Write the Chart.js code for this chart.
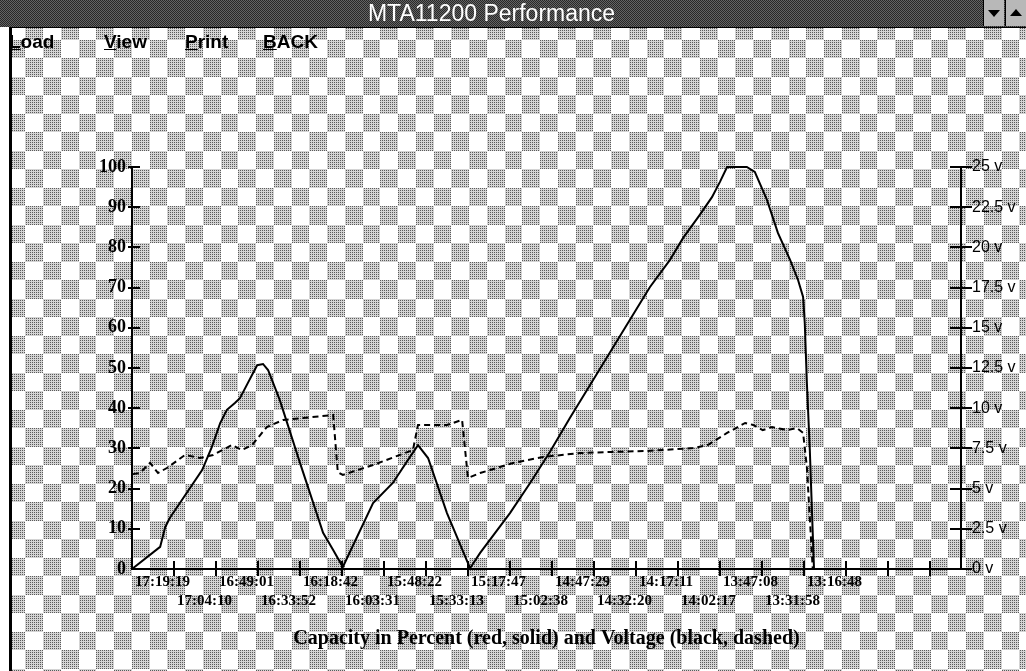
<!DOCTYPE html>
<html><head><meta charset="utf-8">
<script src="https://cdn.jsdelivr.net/npm/chart.js@4.4.0/dist/chart.umd.min.js"></script>
<style>
html,body{margin:0;padding:0;background:#fff;}
#wrap{position:relative;width:1026px;height:671px;overflow:hidden;}
#bg{position:absolute;left:0;top:0;}
#chartBox{position:absolute;left:0;top:0;width:1026px;height:671px;}
#title{position:absolute;left:0;top:0;width:983px;height:27px;line-height:27px;text-align:center;color:#fff;font-family:"Liberation Sans",Arial,sans-serif;font-size:23px;}
.btn{position:absolute;top:0;width:20px;height:26px;background:#b8b8b8;border-left:1px solid #000;}
.tri{position:absolute;left:4px;width:0;height:0;border-left:6px solid transparent;border-right:6px solid transparent;}
#menu span{position:absolute;top:30px;font-family:"Liberation Sans",Arial,sans-serif;font-size:19px;font-weight:bold;color:#000;line-height:24px;}
#lborder{position:absolute;left:9px;top:27px;width:3px;height:644px;background:#000;}
#lwhite{position:absolute;left:0;top:27px;width:9px;height:644px;background:#fff;}
</style></head>
<body><div id="wrap">
<canvas id="bg" width="1026" height="671"></canvas>
<div id="title">MTA11200 Performance</div>
<div class="btn" style="left:983px"><div class="tri" style="top:10px;border-top:7px solid #000"></div></div>
<div class="btn" style="left:1005px"><div class="tri" style="top:9px;border-bottom:7px solid #000"></div></div>
<div id="lwhite"></div><div id="lborder"></div>
<div id="menu">
<span style="left:9px"><u>L</u>oad</span>
<span style="left:104px"><u>V</u>iew</span>
<span style="left:185px"><u>P</u>rint</span>
<span style="left:263px"><u>B</u>ACK</span>
</div>
<div id="chartBox"><canvas id="c"></canvas></div>
</div>
<script>
// ---- data ----
const tickLabels = ['17:19:19','17:04:10','16:49:01','16:33:52','16:18:42','16:03:31','15:48:22','15:33:13','15:17:47','15:02:38','14:47:29','14:32:20','14:17:11','14:02:17','13:47:08','13:31:58','13:16:48','','',''];
const tickPositions = [0,1,2,3,4,5,6,7,8,9,10,11,12,13,14,15,16,17,18,19];
const xMax = 19.74;
// capacity (percent), x in tick units
const capX = [0,0.67,0.79,0.9,1.67,1.9,2.1,2.26,2.45,2.57,2.76,2.98,3.12,3.24,3.52,4.0,4.55,4.79,5.02,5.74,6.21,6.62,6.81,7.05,7.5,8.05,8.29,9.0,9.48,9.95,10.43,10.98,12.33,12.81,13.12,13.52,13.81,14.0,14.17,14.64,14.83,15.12,15.38,15.67,15.86,15.98,16.02,16.07,16.14,16.24];
const capY = [0,5.5,10.4,12.7,24.6,30.3,36.3,39.6,41.3,42.5,46.3,50.7,51.0,49.5,42.0,26.4,9.0,4.7,0.5,16.4,21.4,27.9,30.8,27.6,13.9,0.2,4.0,13.9,21.4,29.1,37.6,47.0,70.1,76.9,82.3,88.1,92.5,96.3,100,100,98.8,91.8,83.6,76.9,71.9,67.7,61.2,46.3,29.6,0];
// voltage (volts)
const voltX = [0.02,0.19,0.43,0.62,0.83,1.26,1.62,1.93,2.38,2.62,2.86,3.21,3.6,4.07,4.79,4.9,5.02,5.74,6.69,6.81,7.5,7.86,8.0,8.29,9.07,9.79,10.67,11.45,12.26,13.36,13.71,14.17,14.6,14.79,15.02,15.24,15.6,15.83,15.98,16.07,16.21];
const voltY = [5.9,5.97,6.6,5.97,6.28,7.09,6.9,7.09,7.71,7.4,7.71,8.83,9.27,9.39,9.58,6.03,5.85,6.47,7.4,8.96,8.96,9.27,5.66,5.97,6.59,6.97,7.21,7.28,7.34,7.52,7.71,8.46,9.08,8.96,8.64,8.83,8.64,8.77,8.46,6.34,0];
const percentMax = 100, percentStep = 10;
const voltMax = 25, voltStep = 2.5;
const axisTitle = 'Capacity in Percent (red, solid) and Voltage (black, dashed)';

// ---- background (window texture) ----
(function(){
  const cv = document.getElementById('bg'); const g = cv.getContext('2d');
  const W = cv.width, H = cv.height; const img = g.createImageData(W, H); const d = img.data;
  for (let y = 0; y < H; y++) for (let x = 0; x < W; x++) {
    let v;
    if (y < 27) { v = ((x + y) % 2 === 0) ? 40 : 100; }
    else if (y === 27) { v = 0; }
    else {
      const cx = Math.floor((x - 25) / 17.75), cy = Math.floor((y - 95) / 18.5);
      const gray = (((cx + cy) % 2) + 2) % 2 === 0;
      v = gray ? ((x % 2 === 0 && y % 2 === 0) ? 90 : 212) : 255;
    }
    const i = (y * W + x) * 4; d[i] = d[i+1] = d[i+2] = v; d[i+3] = 255;
  }
  g.putImageData(img, 0, 0);
})();

const pts = (xs, ys) => xs.map((x, i) => ({x, y: ys[i]}));

const tickMarks = {
  id: 'tickMarks',
  afterDraw(chart) {
    const {ctx} = chart; const {x, y, y1} = chart.scales;
    ctx.save(); ctx.strokeStyle = '#000'; ctx.lineWidth = 2;
    y.ticks.forEach(t => { if (t.value === 0) return; const p = Math.round(y.getPixelForValue(t.value)); ctx.beginPath(); ctx.moveTo(y.right - 4, p); ctx.lineTo(y.right + 8, p); ctx.stroke(); });
    y1.ticks.forEach(t => { const p = Math.round(y1.getPixelForValue(t.value)); ctx.beginPath(); ctx.moveTo(y1.left - 11, p); ctx.lineTo(y1.left + 11, p); ctx.stroke(); });
    x.ticks.forEach(t => { if (t.value === 0) return; const p = Math.round(x.getPixelForValue(t.value)); ctx.beginPath(); ctx.moveTo(p, x.top - 8); ctx.lineTo(p, x.top + 7); ctx.stroke(); });
    ctx.restore();
  }
};

new Chart(document.getElementById('c'), {
  type: 'line',
  data: {
    datasets: [
      { label: 'Capacity', data: pts(capX, capY), yAxisID: 'y', borderColor: '#000', borderWidth: 2, pointRadius: 0, fill: false, tension: 0, clip: false },
      { label: 'Voltage', data: pts(voltX, voltY), yAxisID: 'y1', borderColor: '#000', borderWidth: 2, borderDash: [6, 4], pointRadius: 0, fill: false, tension: 0, clip: false }
    ]
  },
  options: {
    responsive: true, maintainAspectRatio: false, animation: false,
    layout: { padding: { top: 167, left: 0, right: 0, bottom: 0 } },
    plugins: { legend: { display: false }, tooltip: { enabled: false } },
    scales: {
      x: {
        type: 'linear', min: 0, max: xMax,
        afterBuildTicks: s => { s.ticks = tickPositions.map(v => ({ value: v })); },
        afterFit: s => { s.height = 102; },
        grid: { display: true, drawOnChartArea: false, drawTicks: false },
        border: { display: true, color: '#000', width: 2 },
        ticks: {
          autoSkip: false, maxRotation: 0, minRotation: 0, align: 'start', labelOffset: 3, padding: 4,
          color: '#000', font: { family: '"Liberation Serif", serif', size: 15, weight: 'bold', lineHeight: 1.25 },
          callback: (v, i) => (i % 2 ? ['', tickLabels[i]] : tickLabels[i])
        },
        title: { display: true, text: axisTitle, color: '#000', font: { family: '"Liberation Serif", serif', size: 20, weight: 'bold' }, padding: { top: 0, bottom: 20 } }
      },
      y: {
        position: 'left', min: 0, max: percentMax,
        afterFit: s => { s.width = 132; },
        grid: { display: true, drawOnChartArea: false, drawTicks: false },
        border: { display: true, color: '#000', width: 2 },
        ticks: { stepSize: percentStep, padding: 6, color: '#000', font: { family: '"Liberation Serif", serif', size: 18, weight: 'bold' } }
      },
      y1: {
        position: 'right', min: 0, max: voltMax,
        afterFit: s => { s.width = 65; },
        grid: { display: true, drawOnChartArea: false, drawTicks: false },
        border: { display: true, color: '#000', width: 2 },
        ticks: { stepSize: voltStep, padding: 11, color: '#000', font: { family: '"Liberation Sans", sans-serif', size: 16 }, callback: v => v + ' v' }
      }
    }
  },
  plugins: [tickMarks]
});
</script>
</body></html>
